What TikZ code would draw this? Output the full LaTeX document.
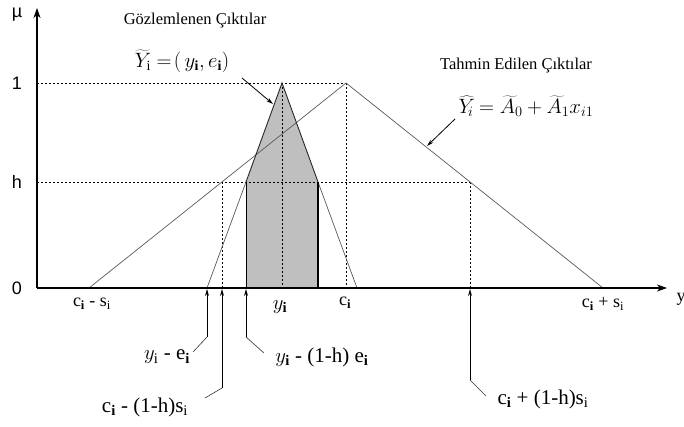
\documentclass[tikz,border=0pt]{standalone}
\usepackage{fontspec}
\setmainfont{Liberation Serif}
\newfontfamily\axf{Liberation Sans}
\usetikzlibrary{arrows.meta}
\begin{document}
\begin{tikzpicture}[x=1pt,y=-1pt,
  tri/.style={draw=black!65, line width=0.7pt},
  tritop/.style={draw=black!85, line width=0.9pt},
  guide/.style={draw=black, line width=0.6pt, dash pattern=on 2.2pt off 1.8pt},
  axisline/.style={line width=1.1pt, -{Stealth[length=10pt,width=7pt,inset=3pt]}},
  pointer/.style={line width=0.8pt, -{Stealth[length=7pt,width=4pt]}},
  leader/.style={draw=black!80, line width=0.6pt},
  axislbl/.style={inner sep=0pt, font=\fontsize{18}{20}\selectfont},
  lbl/.style={inner sep=0pt, font=\fontsize{21}{24}\selectfont},
  fml/.style={inner sep=0pt, font=\fontsize{20}{24}\selectfont},
  ttl/.style={inner sep=0pt, font=\fontsize{16.5}{18}\selectfont},
  axlbl/.style={inner sep=0pt, font=\axf\fontsize{18}{20}\selectfont}]
\useasboundingbox (0,0) rectangle (684,426);
% key points
\coordinate (O) at (37,288);
\coordinate (Ytop) at (37,8);
\coordinate (Xend) at (667,288);
\coordinate (L1) at (37,83);
\coordinate (Lh) at (37,182);
% estimated (big) triangle
\coordinate (BL) at (89,288);
\coordinate (BP) at (346,83);
\coordinate (BR) at (603,288);
\coordinate (BhL) at (222,182);
\coordinate (BhR) at (470,182);
\coordinate (fBP) at (346,288);
\coordinate (fBhL) at (222,288);
\coordinate (fBhR) at (470,288);
% observed (small) triangle
\coordinate (SL) at (207,288);
\coordinate (SP) at (282,83);
\coordinate (SR) at (357,288);
\coordinate (ShL) at (246,182);
\coordinate (ShR) at (318,182);
\coordinate (fSP) at (282,288);
\coordinate (fShL) at (246,288);
\coordinate (fShR) at (318,288);
% shaded h-level set
\fill[black!25] (fShL) -- (ShL) -- (SP) -- (ShR) -- (fShR) -- cycle;
% guides
\draw[guide] (L1) -- (BP);
\draw[guide] (Lh) -- (BhR);
\draw[guide] (SP) -- (fSP);
\draw[guide] (BP) -- (fBP);
\draw[guide] (BhL) -- (fBhL);
\draw[guide] (BhR) -- (fBhR);
% triangles
\draw[tri] (BL) -- (BP) -- (BR);
\draw[tri] (SL) -- (ShL);
\draw[tri] (ShR) -- (SR);
\draw[tritop] (ShL) -- (SP) -- (ShR);
\draw[line width=0.6pt] (ShL) -- (fShL);
\draw[line width=1.4pt] (ShR) -- (fShR);
% axes
\draw[axisline] (O) -- (Ytop);
\draw[axisline] (O) -- (Xend);
% axis labels
\node[axlbl] (mu) at (17,15) {µ};
\node[axlbl] (one) at (17,83) {1};
\node[axlbl] (hh) at (17,182) {h};
\node[axlbl] (zero) at (17,288) {0};
\node[axislbl] (yax) at (681,299) {y};
% labels on the axis
\node[axislbl] (cms) at (92,304) {c\textsubscript{\textbf{i}} - s\textsubscript{i}};
\node[lbl] (yi) at (280,307) {$y_{\mathbf{i}}$};
\node[axislbl] (ci) at (345,303) {c\textsubscript{\textbf{i}}};
\node[axislbl] (cps) at (603,304) {c\textsubscript{\textbf{i}} + s\textsubscript{i}};
% titles
\node[ttl] (obs) at (195,21) {Gözlemlenen Çıktılar};
\node[ttl] (est) at (516,66) {Tahmin Edilen Çıktılar};
\node[fml] (obsf) at (182,61) {$\widetilde{Y}_{\mathrm{i}} =\!(\,y_{\mathbf{i}}, e_{\mathbf{i}})$};
\node[fml] (estf) at (526,106) {$\widehat{Y}_{\!i} = \widetilde{A}_0 + \widetilde{A}_1 x_{i1}$};
% pointers to the curves
\coordinate (po1) at (242,78);
\coordinate (pt1) at (273,104);
\coordinate (po2) at (455,119);
\coordinate (pt2) at (427,146);
\draw[pointer] (po1) -- (pt1);
\draw[pointer] (po2) -- (pt2);
% pointers to the axis
\coordinate (a1t) at (207,289);
\coordinate (a1b) at (207,337);
\coordinate (a1e) at (193,352);
\coordinate (a2t) at (222,289);
\coordinate (a2b) at (222,388);
\coordinate (a2e) at (205,398);
\coordinate (a3t) at (246,289);
\coordinate (a3b) at (246,337);
\coordinate (a3e) at (264,353);
\coordinate (a4t) at (470,289);
\coordinate (a4b) at (470,380);
\coordinate (a4e) at (486,396);
\draw[pointer] (a1b) -- (a1t);
\draw[leader] (a1e) -- (a1b);
\draw[pointer] (a2b) -- (a2t);
\draw[leader] (a2e) -- (a2b);
\draw[pointer] (a3b) -- (a3t);
\draw[leader] (a3e) -- (a3b);
\draw[pointer] (a4b) -- (a4t);
\draw[leader] (a4e) -- (a4b);
% labels below
\node[lbl] (l1) at (167,357) {$y_{\mathrm{i}}$ - e\textsubscript{\textbf{i}}};
\node[lbl] (l2) at (145,407) {c\textsubscript{\textbf{i}} - (1-h)s\textsubscript{i}};
\node[lbl] (l3) at (322,357) {$y_{\mathbf{i}}$ - (1-h) e\textsubscript{\textbf{i}}};
\node[lbl] (l4) at (543,399) {c\textsubscript{\textbf{i}} + (1-h)s\textsubscript{i}};
\end{tikzpicture}
\end{document}
